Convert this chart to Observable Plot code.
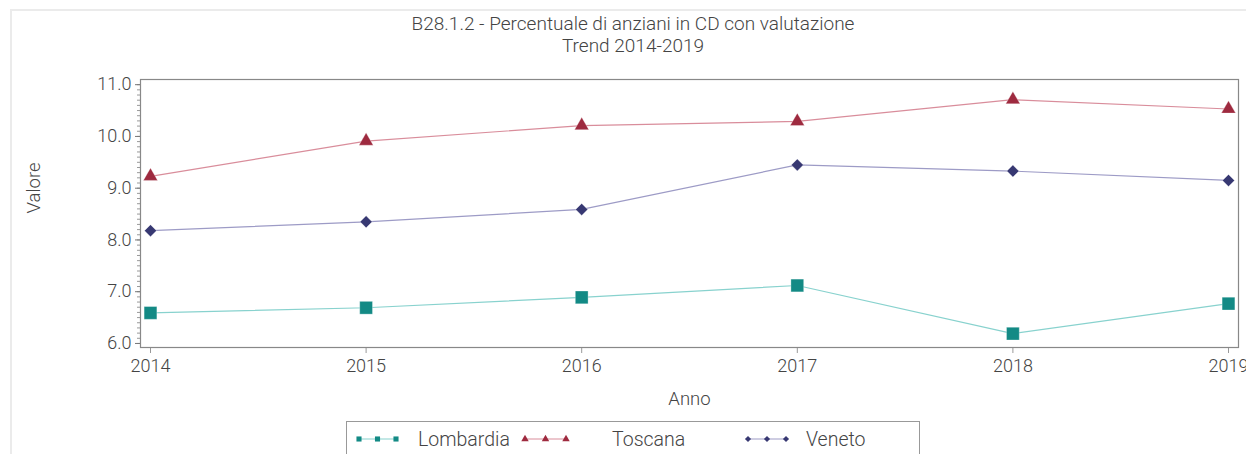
<!DOCTYPE html>
<html>
<head>
<meta charset="utf-8">
<script src="https://cdn.jsdelivr.net/npm/d3@7"></script>
<script src="https://cdn.jsdelivr.net/npm/@observablehq/plot@0.6"></script>
<style>
  html, body { margin: 0; padding: 0; background: #fff; }
  #wrap { position: relative; width: 1246px; height: 454px; overflow: hidden; font-family: Roboto, "DejaVu Sans", sans-serif; color: #444; }
  #border { position: absolute; left: 10px; top: 9px; width: 1240px; height: 460px; border-top: 2px solid #ebebeb; border-left: 2px solid #ebebeb; }
  #title { position: absolute; left: 0; width: 1266px; top: 13px; text-align: center; font-size: 19px; line-height: 22px; color: #444; font-weight: 300; }
  #chart { position: absolute; left: 0; top: 0; }
  #legend { position: absolute; left: 346px; top: 421px; width: 574px; height: 40px; border: 1px solid #999; box-sizing: border-box; }
  .sw { position: absolute; top: 7px; }
  .lt { position: absolute; top: 6px; font-size: 19.5px; color: #444; font-weight: 300; white-space: nowrap; }
</style>
</head>
<body>
<div id="wrap">
  <div id="border"></div>
  <div id="chart"></div>
  <div id="title">B28.1.2 - Percentuale di anziani in CD con valutazione<br>Trend 2014-2019</div>
  <div id="legend"></div>
</div>
<script>
const years = [2014, 2015, 2016, 2017, 2018, 2019];
const regions = ["Lombardia", "Toscana", "Veneto"];
const lombardia = [6.59, 6.69, 6.89, 7.12, 6.19, 6.77];
const toscana   = [9.23, 9.91, 10.21, 10.29, 10.71, 10.53];
const veneto    = [8.18, 8.35, 8.59, 9.45, 9.33, 9.15];
const yTicks = [6, 7, 8, 9, 10, 11];

const seriesValues = {Lombardia: lombardia, Toscana: toscana, Veneto: veneto};
const markColor = {Lombardia: "#138a85", Toscana: "#9e2a3f", Veneto: "#373872"};
const lineColor = {Lombardia: "#88d2ce", Toscana: "#d98d9b", Veneto: "#9d9bc6"};
const symbolOf = {Lombardia: "square", Toscana: "triangle", Veneto: "diamond2"};
const rOf = {Lombardia: 7.2, Toscana: 5.3, Veneto: 5.4};

const data = regions.flatMap(r => years.map((y, i) => ({region: r, year: y, value: seriesValues[r][i]})));
const minorTicks = d3.range(60, 111).map(v => v / 10);

const marks = [
  Plot.axisY({ticks: minorTicks, tickSize: 3, stroke: "#999", text: null, label: null}),
  Plot.axisY({ticks: yTicks, tickSize: 5, tickFormat: d => d.toFixed(1), fontSize: 18, tickPadding: 4, stroke: "#777", fill: "#444", label: null}),
  Plot.axisX({ticks: years, tickSize: 6, tickFormat: d => String(d), fontSize: 18, tickPadding: 6, stroke: "#999", fill: "#444", label: null}),
  Plot.frame({stroke: "#888", strokeWidth: 1.2}),
];
for (const r of regions) {
  const d = data.filter(e => e.region === r);
  marks.push(Plot.line(d, {x: "year", y: "value", stroke: lineColor[r], strokeWidth: 1.2}));
}
for (const r of regions) {
  const d = data.filter(e => e.region === r);
  marks.push(Plot.dot(d, {x: "year", y: "value", symbol: () => symbolOf[r], r: rOf[r], fill: markColor[r], stroke: "#fff", strokeWidth: 0.6, strokeOpacity: 0.5}));
}
marks.push(Plot.text(["Valore"], {frameAnchor: "left", dx: -106, rotate: -90, fontSize: 18.5, fill: "#444"}));
marks.push(Plot.text(["Anno"], {frameAnchor: "bottom", dy: 57, fontSize: 18.5, fill: "#444"}));

const chart = Plot.plot({
  width: 1246,
  height: 454,
  marginTop: 79,
  marginBottom: 107,
  marginLeft: 140,
  marginRight: 8,
  style: {fontFamily: "Roboto, 'DejaVu Sans', sans-serif", background: "transparent", overflow: "visible"},
  x: {domain: [2014 - 10 / 215.6, 2019 + 10 / 215.6], axis: null},
  y: {domain: [5.922, 11.1], axis: null},
  symbol: {domain: ["square", "triangle", "diamond2"], range: ["square", "triangle", "diamond2"]},
  marks
});
chart.querySelectorAll("text").forEach(t => t.setAttribute("font-weight", "300"));
document.getElementById("chart").appendChild(chart);

// legend
const legend = document.getElementById("legend");
const swatchX = {Lombardia: 8, Toscana: 174, Veneto: 397};
const textX = {Lombardia: 71, Toscana: 265, Veneto: 459};
const swatchW = {Lombardia: 45, Toscana: 49, Veneto: 46};
for (const r of regions) {
  const w = swatchW[r];
  const svg = d3.create("svg").attr("class", "sw").attr("width", w).attr("height", 20).style("left", swatchX[r] + "px");
  svg.append("line").attr("x1", 2).attr("x2", w - 2).attr("y1", 10).attr("y2", 10).attr("stroke", lineColor[r]).attr("stroke-width", 1.2);
  const sym = {square: d3.symbolSquare, triangle: d3.symbolTriangle, diamond2: d3.symbolDiamond2}[symbolOf[r]];
  for (const cx of [4, w / 2, w - 4]) {
    svg.append("path").attr("d", d3.symbol(sym, symbolOf[r] === "square" ? 26 : 24)()).attr("transform", `translate(${cx},10)`).attr("fill", markColor[r]);
  }
  legend.appendChild(svg.node());
  const span = document.createElement("div");
  span.className = "lt";
  span.style.left = textX[r] + "px";
  span.textContent = r;
  legend.appendChild(span);
}
</script>
</body>
</html>
